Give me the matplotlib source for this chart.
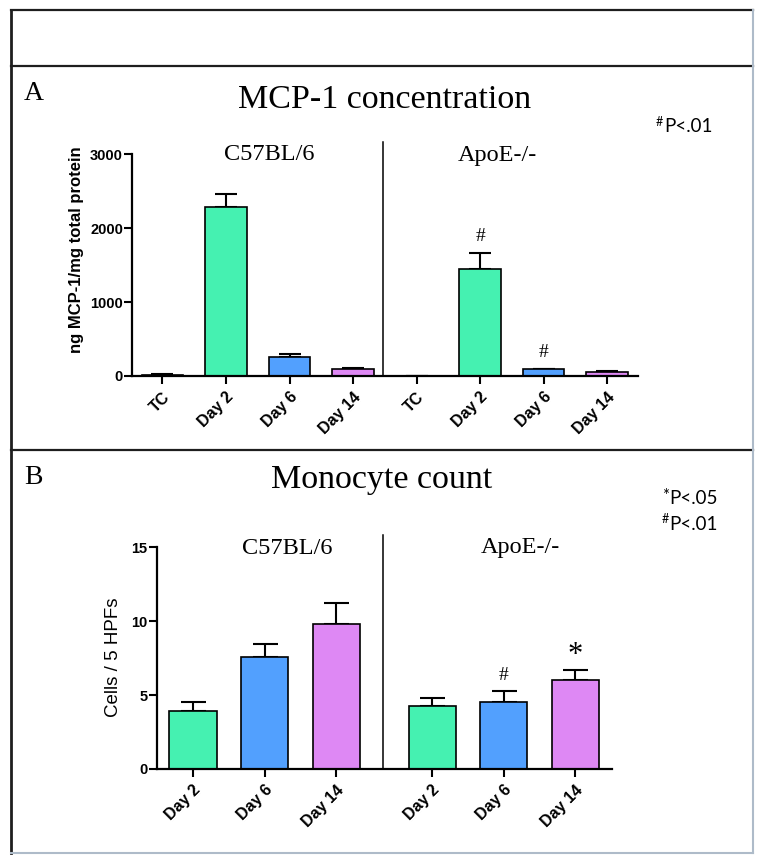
import matplotlib
matplotlib.use("Agg")
import matplotlib.pyplot as plt
import numpy as np

# ---------------- data ----------------
mcp_labels = ["TC", "Day 2", "Day 6", "Day 14"]
c57_mcp = [20, 2290, 262, 95]
c57_mcp_err = [8, 175, 30, 17]
apoe_mcp = [4, 1450, 88, 52]
apoe_mcp_err = [2, 215, 10, 20]

mono_labels = ["Day 2", "Day 6", "Day 14"]
c57_mono = [3.9, 7.55, 9.8]
c57_mono_err = [0.6, 0.88, 1.4]
apoe_mono = [4.25, 4.5, 6.0]
apoe_mono_err = [0.55, 0.8, 0.67]

mcp_colors = ["#FFFFFF", "#45F1B1", "#52A0FE", "#DE88F4"]
mono_colors = ["#45F1B1", "#52A0FE", "#DE88F4"]

# ---------------- figure ----------------
W, H = 764, 864
fig = plt.figure(figsize=(W / 100, H / 100), dpi=100)
fig.patch.set_facecolor("white")

SERIF = "Liberation Serif"
SANS = "Liberation Sans"
CAL = "Lato"


def px_axes(left, top, right, bottom):
    return fig.add_axes([left / W, 1 - bottom / H, (right - left) / W, (bottom - top) / H])


ov = fig.add_axes([0, 0, 1, 1])
ov.set_xlim(0, W)
ov.set_ylim(H, 0)
ov.axis("off")
ov.patch.set_alpha(0)

dark = "#1E1E1E"
light = "#AEBBC9"
ov.plot([11, 753], [10, 10], color=dark, lw=1.6)
ov.plot([11, 11], [10, 853], color=dark, lw=2.0)
ov.plot([11, 753], [65.5, 65.5], color=dark, lw=1.6)
ov.plot([11, 753], [450, 450], color=dark, lw=1.6)
ov.plot([753, 753], [10, 853], color=light, lw=1.5)
ov.plot([11, 753], [853, 853], color=light, lw=1.5)

# panel letters & titles
ov.text(24, 100, "A", fontfamily=SERIF, fontsize=20, ha="left", va="baseline")
ov.text(385, 108, "MCP-1 concentration", fontfamily=SERIF, fontsize=24.5, ha="center", va="baseline")
ov.text(24, 484, "B", fontfamily=SERIF, fontsize=20, ha="left", va="baseline")
ov.text(382, 488, "Monocyte count", fontfamily=SERIF, fontsize=24.5, ha="center", va="baseline")

# significance legends
ov.text(656, 122, "#", fontfamily=CAL, fontsize=9, ha="left", va="center")
ov.text(664, 126, "P<.01", fontfamily=CAL, fontsize=13.5, ha="left", va="center")
ov.text(662, 496, "*", fontfamily=CAL, fontsize=12, ha="left", va="center")
ov.text(669, 499, "P<.05", fontfamily=CAL, fontsize=13.5, ha="left", va="center")
ov.text(662, 519, "#", fontfamily=CAL, fontsize=9, ha="left", va="center")
ov.text(669, 524, "P<.01", fontfamily=CAL, fontsize=13.5, ha="left", va="center")

# group labels
ov.text(269, 155, "C57BL/6", fontfamily=SERIF, fontsize=17.5, ha="center", va="center")
ov.text(497, 155, "ApoE-/-", fontfamily=SERIF, fontsize=17.5, ha="center", va="center")
ov.text(287, 548, "C57BL/6", fontfamily=SERIF, fontsize=17.5, ha="center", va="center")
ov.text(520, 548, "ApoE-/-", fontfamily=SERIF, fontsize=17.5, ha="center", va="center")

# y labels
ov.text(76, 250, "ng MCP-1/mg total protein", fontfamily=SANS, fontweight="bold",
        fontsize=12, rotation=90, ha="center", va="center")
ov.text(114, 657, "Cells / 5 HPFs", fontfamily=SANS, fontsize=13.5, rotation=90,
        ha="center", va="center")


def style_axes(ax, xlabels, yticks):
    for s in ["top", "right"]:
        ax.spines[s].set_visible(False)
    for s in ["left", "bottom"]:
        ax.spines[s].set_linewidth(1.6)
        ax.spines[s].set_color("black")
    ax.tick_params(axis="both", direction="out", length=5.5, width=1.5, color="black")
    ax.tick_params(axis="y", pad=1)
    ax.tick_params(axis="x", pad=4)
    ax.set_yticks(yticks)
    ax.set_yticklabels([str(v) for v in yticks], fontfamily=SANS, fontweight="bold", fontsize=10.5)
    ax.set_xticklabels(xlabels, rotation=45, ha="right", rotation_mode="anchor",
                       fontfamily=SANS, fontweight="bold", fontsize=11.5)
    ax.patch.set_alpha(0)


# ---------------- panel A ----------------
axA = px_axes(132, 154, 638.3, 376)
posA_left = np.arange(len(mcp_labels))
posA_right = posA_left + len(mcp_labels)
bw = 0.655
for pos, vals, errs in [(posA_left, c57_mcp, c57_mcp_err), (posA_right, apoe_mcp, apoe_mcp_err)]:
    axA.bar(pos, vals, width=bw, color=mcp_colors, edgecolor="black", linewidth=1.2, zorder=2)
    axA.errorbar(pos, vals, yerr=[np.zeros(len(vals)), errs], fmt="none", ecolor="black",
                 elinewidth=1.5, capsize=8, capthick=1.5, zorder=1)
axA.set_xlim(-0.48, 7.49)
axA.set_ylim(0, 3000)
axA.set_xticks(np.concatenate([posA_left, posA_right]))
style_axes(axA, mcp_labels * 2, [0, 1000, 2000, 3000])
axA.plot([3.47, 3.47], [0, 3160], color="black", lw=1.1, clip_on=False)
for i in [1, 2]:
    axA.text(posA_right[i], apoe_mcp[i] + apoe_mcp_err[i] + 110, "#", fontfamily=SERIF,
             fontsize=14, ha="center", va="bottom")

# ---------------- panel B ----------------
axB = px_axes(156.7, 547.3, 612.3, 769)
gap = 1.34
posB_left = np.arange(len(mono_labels)).astype(float)
posB_right = posB_left + len(mono_labels) - 1 + gap
bwB = 0.66
for pos, vals, errs in [(posB_left, c57_mono, c57_mono_err), (posB_right, apoe_mono, apoe_mono_err)]:
    axB.bar(pos, vals, width=bwB, color=mono_colors, edgecolor="black", linewidth=1.2, zorder=2)
    axB.errorbar(pos, vals, yerr=[np.zeros(len(vals)), errs], fmt="none", ecolor="black",
                 elinewidth=1.5, capsize=9, capthick=1.5, zorder=1)
axB.set_xlim(-0.507, 5.856)
axB.set_ylim(0, 15)
axB.set_xticks(np.concatenate([posB_left, posB_right]))
style_axes(axB, mono_labels * 2, [0, 5, 10, 15])
axB.plot([2.65, 2.65], [0, 15.8], color="black", lw=1.1, clip_on=False)
axB.text(posB_right[1], apoe_mono[1] + apoe_mono_err[1] + 0.45, "#", fontfamily=SERIF,
         fontsize=14, ha="center", va="bottom")
axB.text(posB_right[2], apoe_mono[2] + apoe_mono_err[2] + 0.0, "*", fontfamily=SERIF,
         fontsize=22, ha="center", va="bottom")

fig.savefig("out.png", dpi=100, facecolor="white")
